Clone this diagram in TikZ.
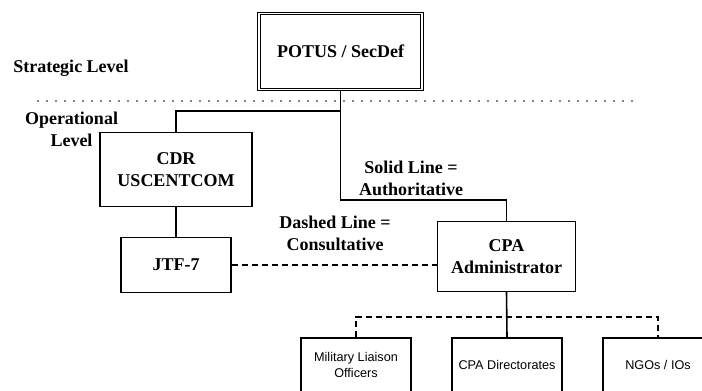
\documentclass[tikz,border=0pt]{standalone}
\usepackage{fontspec}
\setmainfont{Liberation Serif}
\setsansfont{Liberation Sans}
\usepackage{tikz}

\begin{document}
\begin{tikzpicture}[
        x=0.75pt,y=-0.75pt,
        label/.style={font=\fontsize{13.5}{16.5}\selectfont\bfseries,align=center,inner sep=0pt},
        topbox/.style={draw,line width=0.8pt,fill=white,minimum width=124pt,minimum height=59pt,font=\fontsize{13.5}{16.5}\selectfont\bfseries},
        unit/.style={draw,line width=0.9pt,fill=white,align=center,inner sep=0pt,font=\fontsize{13.5}{16.5}\selectfont\bfseries},
        staff/.style={draw,line width=0.8pt,fill=white,align=center,inner sep=0pt,minimum width=82.5pt,minimum height=40.5pt,font=\fontsize{9.5}{11.5}\selectfont\sffamily},
        command/.style={line width=1.2pt},
        consult/.style={line width=1.1pt,dash pattern=on 4.5pt off 3pt}
    ]

    \useasboundingbox (0,0) rectangle (702,390);

    \draw[line width=1.4pt,line cap=round,dash pattern=on 0pt off 6.75pt] (38,101) -- (634,101);

    \node[label,anchor=west] (strategic) at (13,68) {Strategic Level};
    \node[label] (operational) at (71.5,129) {Operational\\Level};
    \node[label] (solid) at (411,178) {Solid Line =\\Authoritative};
    \node[label] (dashed) at (335,233) {Dashed Line =\\Consultative};

    \node[topbox] (potus) at (340.5,51.5) {POTUS / SecDef};
    \draw[line width=0.8pt] ([shift={(3,-3)}]potus.south west) rectangle ([shift={(-3,3)}]potus.north east);

    \node[unit,minimum width=114pt,minimum height=56pt] (cdr) at (176,169.5) {CDR\\USCENTCOM};
    \node[unit,minimum width=82.5pt,minimum height=41pt] (jtf) at (176,265) {JTF-7};
    \node[unit,minimum width=104pt,minimum height=52pt] (cpa) at (506.5,256.5) {CPA\\Administrator};

    \node[staff] (mlo) at (356,365) {Military Liaison\\Officers};
    \node[staff] (dir) at (507,365) {CPA Directorates};
    \node[staff] (ngo) at (658,365) {NGOs / IOs};

    \coordinate (split) at (340.5,111);
    \coordinate (bend) at (340.5,200);
    \coordinate (rail) at (507,317);

    \draw[command] (potus.south) -- (bend) -| (cpa.north);
    \draw[command] (split) -| (cdr.north);
    \draw[command] (cdr.south) -- (jtf.north);

    \draw[consult] (jtf.east) -- (jtf.east -| cpa.west);
    \draw[consult] (mlo.north) |- (rail) -| (ngo.north);
    \draw[command] (cpa.south) -- (dir.north);

\end{tikzpicture}
\end{document}
